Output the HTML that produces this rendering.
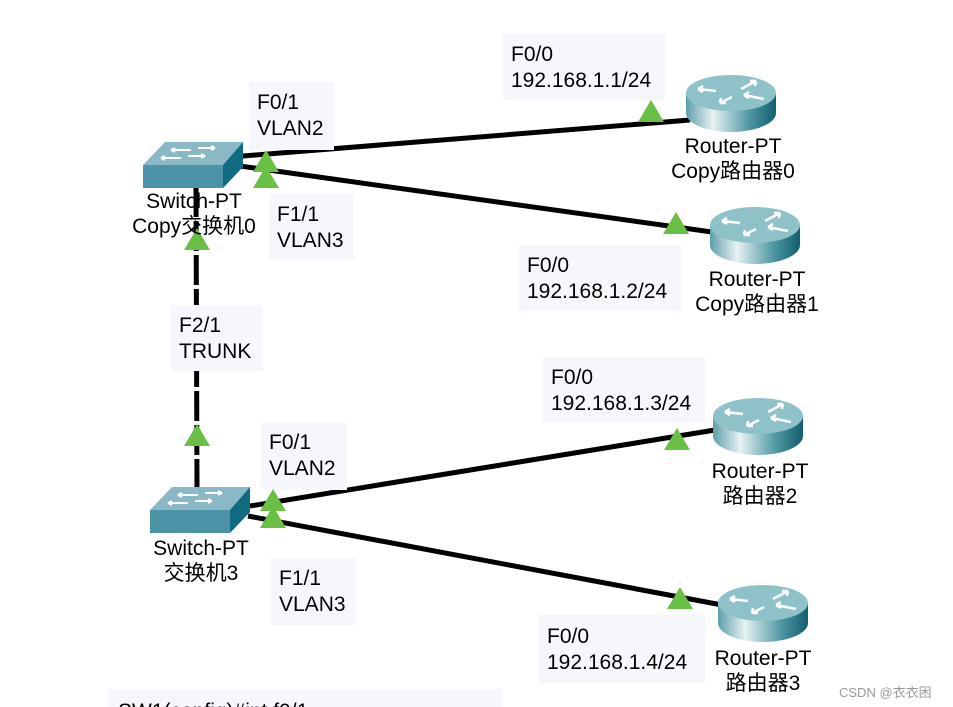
<!DOCTYPE html>
<html><head><meta charset="utf-8"><style>
html,body{margin:0;padding:0;background:#fff;}
svg{display:block;}
text{font-family:"Liberation Sans","Noto Sans CJK SC",sans-serif;font-size:21px;fill:#000;}
.lb{fill:#f5f7fd;}
</style></head><body>
<svg width="953" height="707" viewBox="0 0 953 707" xmlns="http://www.w3.org/2000/svg">
<defs>
<linearGradient id="rg" x1="0" x2="1" y1="0" y2="0">
<stop offset="0" stop-color="#5e9ea8"/><stop offset="0.3" stop-color="#e6f2f3"/><stop offset="0.7" stop-color="#4f97a3"/><stop offset="1" stop-color="#125f6e"/>
</linearGradient>
<g id="router">
<path d="M0,18 L0,38 A45,19 0 0 0 90,38 L90,18 Z" fill="url(#rg)"/>
<ellipse cx="45" cy="18" rx="45" ry="18" fill="#8fc1c9"/>
<g stroke="#fff" stroke-width="2.5" fill="none">
<path d="M12,14 L30,16 M12,14 l5,-3 M12,14 l5,3"/>
<path d="M70,6 L55,14 M70,6 l-6,0 M70,6 l-1,5"/>
<path d="M78,24 L58,20 M58,20 l5,-3 M58,20 l5,3"/>
<path d="M34,28 L46,22 M34,28 l6,0 M34,28 l1,-5"/>
</g>
</g>
<g id="switch">
<polygon points="0,23 22,0 100,0 80,23" fill="#8ab8c6"/>
<rect x="0" y="23" width="80" height="23" fill="#4c93a7"/>
<polygon points="80,23 100,0 100,25 80,46" fill="#0f6c80"/>
<g stroke="#fff" stroke-width="2" fill="none">
<path d="M28,8 L48,8 M28,8 l4,-2 M28,8 l4,2"/>
<path d="M55,6 L72,6 M72,6 l-4,-2 M72,6 l-4,2"/>
<path d="M18,16 L38,16 M18,16 l4,-2 M18,16 l4,2"/>
<path d="M45,14 L62,14 M62,14 l-4,-2 M62,14 l-4,2"/>
</g>
</g>
<polygon id="tri" points="0,22 13,0 26,22" fill="#6abf45"/>
</defs>

<g stroke="#000" stroke-width="5">
<line x1="243" y1="156" x2="690" y2="120"/>
<line x1="240" y1="166" x2="712" y2="232"/>
<line x1="250" y1="506" x2="715" y2="430"/>
<line x1="248" y1="516" x2="722" y2="605"/>
<line x1="196" y1="187" x2="197" y2="490" stroke-dasharray="30 4"/>
</g>

<rect class="lb" x="249" y="82" width="85" height="68"/>
<text x="257" y="109">F0/1</text><text x="257" y="135">VLAN2</text>
<rect class="lb" x="269" y="194" width="85" height="66"/>
<text x="277" y="221">F1/1</text><text x="277" y="247">VLAN3</text>
<rect class="lb" x="503" y="34" width="162" height="66"/>
<text x="511" y="61">F0/0</text><text x="511" y="87">192.168.1.1/24</text>
<rect class="lb" x="519" y="245" width="162" height="66"/>
<text x="527" y="272">F0/0</text><text x="527" y="298">192.168.1.2/24</text>
<rect class="lb" x="171" y="305" width="92" height="66"/>
<text x="179" y="332">F2/1</text><text x="179" y="358">TRUNK</text>
<rect class="lb" x="261" y="422" width="86" height="68"/>
<text x="269" y="449">F0/1</text><text x="269" y="475">VLAN2</text>
<rect class="lb" x="543" y="357" width="162" height="66"/>
<text x="551" y="384">F0/0</text><text x="551" y="410">192.168.1.3/24</text>
<rect class="lb" x="271" y="558" width="85" height="67"/>
<text x="279" y="585">F1/1</text><text x="279" y="611">VLAN3</text>
<rect class="lb" x="539" y="615" width="167" height="68"/>
<text x="547" y="643">F0/0</text><text x="547" y="669">192.168.1.4/24</text>
<rect class="lb" x="108" y="689" width="394" height="18"/>
<text x="118" y="718">SW1(config)#int f0/1</text>

<use href="#switch" x="143" y="142"/>
<use href="#switch" x="150" y="487"/>
<use href="#router" x="686" y="75"/>
<use href="#router" x="710" y="207"/>
<use href="#router" x="713" y="398"/>
<use href="#router" x="718" y="585"/>

<use href="#tri" x="253" y="150"/>
<use href="#tri" x="253" y="166"/>
<use href="#tri" x="184" y="228"/>
<use href="#tri" x="184" y="424"/>
<use href="#tri" x="260" y="489"/>
<use href="#tri" x="260" y="506"/>
<use href="#tri" x="638" y="100"/>
<use href="#tri" x="663" y="212"/>
<use href="#tri" x="664" y="428"/>
<use href="#tri" x="667" y="587"/>

<g text-anchor="middle">
<text x="194" y="208">Switch-PT</text><text x="194" y="233">Copy交换机0</text>
<text x="201" y="555">Switch-PT</text><text x="201" y="580">交换机3</text>
<text x="733" y="153">Router-PT</text><text x="733" y="178">Copy路由器0</text>
<text x="757" y="286">Router-PT</text><text x="757" y="311">Copy路由器1</text>
<text x="760" y="478">Router-PT</text><text x="760" y="503">路由器2</text>
<text x="763" y="665">Router-PT</text><text x="763" y="690">路由器3</text>
</g>
<text x="839" y="697" style="font-size:13px;fill:#9a9a9a">CSDN @衣衣困</text>
</svg>
</body></html>
